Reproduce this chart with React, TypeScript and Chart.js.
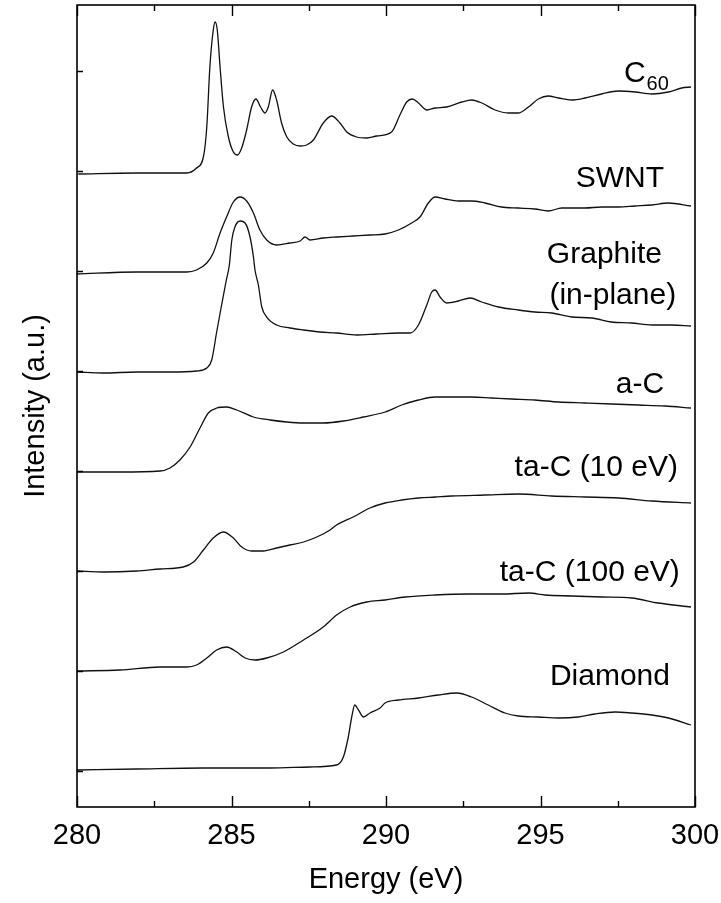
import React, { useEffect, useRef } from 'react';
import { Chart, registerables } from 'chart.js';

Chart.register(...registerables);

const FONT = "'Liberation Sans', Arial, Helvetica, sans-serif";

// ---- data (energy in eV, intensity in offset arbitrary units) ----
const eC60 = [280.04, 281.93, 283.55, 283.87, 284.09, 284.2, 284.3, 284.41, 284.47, 284.54, 284.63, 284.74, 284.9, 285.06, 285.19, 285.33, 285.49, 285.65, 285.79, 285.94, 286.08, 286.19, 286.33, 286.46, 286.62, 286.79, 287.0, 287.22, 287.43, 287.65, 287.97, 288.24, 288.51, 288.73, 289.05, 289.38, 289.7, 290.18, 290.45, 290.67, 290.85, 291.05, 291.32, 291.59, 291.96, 292.45, 292.77, 293.1, 293.53, 293.96, 294.28, 294.61, 294.93, 295.25, 295.58, 296.01, 296.44, 296.98, 297.52, 298.06, 298.6, 299.14, 299.57, 299.87];
const iC60 = [5.97, 5.98, 5.98, 6.03, 6.14, 6.44, 7.04, 7.41, 7.49, 7.41, 7.04, 6.64, 6.34, 6.19, 6.16, 6.23, 6.41, 6.64, 6.72, 6.64, 6.58, 6.64, 6.81, 6.71, 6.48, 6.34, 6.27, 6.25, 6.26, 6.31, 6.48, 6.55, 6.48, 6.39, 6.34, 6.33, 6.35, 6.39, 6.56, 6.69, 6.72, 6.68, 6.61, 6.63, 6.64, 6.69, 6.71, 6.68, 6.61, 6.58, 6.58, 6.64, 6.72, 6.75, 6.73, 6.71, 6.73, 6.77, 6.8, 6.79, 6.77, 6.79, 6.83, 6.84];

const eSWNT = [279.99, 281.93, 283.55, 283.87, 284.2, 284.41, 284.63, 284.84, 285.06, 285.28, 285.49, 285.71, 285.92, 286.14, 286.46, 286.89, 287.22, 287.38, 287.54, 287.97, 288.4, 288.94, 289.48, 289.97, 290.4, 290.83, 291.1, 291.37, 291.59, 291.91, 292.34, 292.77, 293.2, 293.74, 294.28, 294.82, 295.25, 295.69, 296.44, 296.98, 297.52, 298.06, 298.6, 299.14, 299.87];
const iSWNT = [4.97, 4.99, 4.99, 5.01, 5.08, 5.18, 5.38, 5.54, 5.69, 5.74, 5.7, 5.58, 5.41, 5.31, 5.26, 5.28, 5.3, 5.34, 5.31, 5.33, 5.34, 5.35, 5.36, 5.37, 5.41, 5.48, 5.54, 5.68, 5.74, 5.72, 5.7, 5.7, 5.68, 5.64, 5.63, 5.62, 5.6, 5.63, 5.63, 5.64, 5.64, 5.65, 5.66, 5.68, 5.65];

const eGraphite = [279.99, 280.85, 281.93, 283.01, 283.87, 284.2, 284.36, 284.52, 284.68, 284.82, 284.93, 285.01, 285.11, 285.28, 285.44, 285.6, 285.71, 285.76, 285.87, 285.98, 286.14, 286.46, 286.89, 287.33, 287.86, 288.4, 289.05, 289.7, 290.4, 290.78, 291.05, 291.32, 291.48, 291.59, 291.75, 291.96, 292.34, 292.72, 293.1, 293.64, 294.28, 294.82, 295.36, 296.01, 296.66, 297.3, 297.95, 298.6, 299.25, 299.87];
const iGraphite = [3.99, 3.98, 3.99, 3.99, 4.0, 4.03, 4.11, 4.39, 4.66, 4.89, 5.06, 5.31, 5.44, 5.5, 5.48, 5.34, 5.14, 5.01, 4.86, 4.64, 4.54, 4.46, 4.43, 4.41, 4.39, 4.38, 4.36, 4.37, 4.38, 4.38, 4.46, 4.66, 4.79, 4.81, 4.74, 4.68, 4.7, 4.73, 4.69, 4.64, 4.61, 4.59, 4.58, 4.54, 4.53, 4.49, 4.48, 4.46, 4.46, 4.45];

const eAC = [279.99, 281.39, 282.69, 283.01, 283.33, 283.66, 283.98, 284.25, 284.52, 284.84, 285.17, 285.71, 286.25, 286.79, 287.33, 287.97, 288.62, 289.27, 289.97, 290.51, 291.05, 291.59, 292.13, 292.77, 293.42, 294.07, 294.82, 295.58, 296.44, 297.3, 298.17, 299.03, 299.87];
const iAC = [2.99, 2.99, 3.0, 3.03, 3.11, 3.24, 3.43, 3.58, 3.63, 3.64, 3.61, 3.54, 3.51, 3.49, 3.48, 3.48, 3.5, 3.54, 3.59, 3.66, 3.71, 3.74, 3.74, 3.74, 3.73, 3.72, 3.71, 3.69, 3.68, 3.67, 3.66, 3.65, 3.63];

const eTaC10 = [279.99, 280.85, 281.93, 282.69, 283.44, 283.77, 284.09, 284.41, 284.74, 285.06, 285.33, 285.65, 286.03, 286.46, 286.89, 287.33, 287.76, 288.19, 288.4, 288.94, 289.48, 289.97, 290.51, 291.05, 291.59, 292.13, 293.2, 294.28, 295.36, 296.44, 297.52, 298.6, 299.87];
const iTaC10 = [2.0, 1.99, 2.0, 2.02, 2.04, 2.09, 2.21, 2.33, 2.39, 2.33, 2.24, 2.2, 2.2, 2.23, 2.26, 2.29, 2.34, 2.41, 2.46, 2.54, 2.63, 2.68, 2.71, 2.73, 2.74, 2.75, 2.76, 2.77, 2.75, 2.74, 2.73, 2.7, 2.68];

const eTaC100 = [279.99, 281.39, 282.69, 283.55, 283.87, 284.2, 284.52, 284.84, 285.17, 285.44, 285.76, 286.14, 286.68, 287.33, 287.97, 288.4, 288.84, 289.38, 289.97, 290.62, 291.59, 292.66, 293.74, 294.61, 295.15, 296.01, 296.98, 297.95, 298.81, 299.87];
const iTaC100 = [1.0, 1.01, 1.04, 1.04, 1.06, 1.13, 1.21, 1.24, 1.19, 1.13, 1.11, 1.13, 1.19, 1.31, 1.44, 1.56, 1.64, 1.69, 1.71, 1.74, 1.76, 1.77, 1.77, 1.78, 1.76, 1.75, 1.74, 1.73, 1.68, 1.64];

const eDiamond = [279.99, 281.93, 284.09, 286.25, 287.54, 288.4, 288.62, 288.78, 288.89, 288.99, 289.11, 289.27, 289.48, 289.81, 289.97, 290.4, 291.05, 291.69, 292.29, 292.77, 293.31, 293.85, 294.28, 294.93, 295.58, 296.22, 296.76, 297.41, 297.95, 298.6, 299.14, 299.87];
const iDiamond = [0.01, 0.02, 0.03, 0.03, 0.04, 0.06, 0.14, 0.34, 0.54, 0.66, 0.61, 0.54, 0.58, 0.63, 0.68, 0.71, 0.73, 0.76, 0.78, 0.74, 0.66, 0.58, 0.55, 0.54, 0.53, 0.54, 0.57, 0.59, 0.58, 0.56, 0.53, 0.46];

const seriesNames = ['C60', 'SWNT', 'Graphite (in-plane)', 'a-C', 'ta-C (10 eV)', 'ta-C (100 eV)', 'Diamond'];
const seriesEnergies = [eC60, eSWNT, eGraphite, eAC, eTaC10, eTaC100, eDiamond];
const seriesIntensities = [iC60, iSWNT, iGraphite, iAC, iTaC10, iTaC100, iDiamond];

// x tick values (labels shown at multiples of 5)
const xMin = 280;
const xMax = 300;
const xStep = 2.5;
const xTitle = 'Energy (eV)';
const yTitle = 'Intensity (a.u.)';

// curve labels: text, anchor energy (right edge), anchor intensity (baseline)
const labelTexts = ['SWNT', 'Graphite', '(in-plane)', 'a-C', 'ta-C (10 eV)', 'ta-C (100 eV)', 'Diamond'];
const labelEnergies = [299.0, 298.93, 299.39, 299.0, 299.45, 299.51, 299.19];
const labelLevels = [5.84, 5.08, 4.67, 3.78, 2.95, 1.9, 0.86];
const c60Label = { main: 'C', sub: '60', energy: 297.7, level: 6.89, subLevel: 6.81 };

function zip(xs: number[], ys: number[]) {
  const n = Math.min(xs.length, ys.length);
  const out: { x: number; y: number }[] = [];
  for (let i = 0; i < n; i++) out.push({ x: xs[i], y: ys[i] });
  return out;
}

const framePlugin = {
  id: 'frameTicks',
  afterDraw(chart: any) {
    const { ctx, chartArea: a, scales } = chart;
    const xs = scales.x;
    const ys = scales.y;
    ctx.save();
    ctx.strokeStyle = '#000';
    ctx.lineWidth = 1.6;
    ctx.strokeRect(a.left, a.top, a.right - a.left, a.bottom - a.top);
    ctx.lineWidth = 1.4;
    ctx.beginPath();
    xs.ticks.forEach((t: any) => {
      const px = Math.round(xs.getPixelForValue(t.value)) + 0.5;
      const major = Math.abs(t.value % 5) < 1e-6;
      const len = major ? 11 : 6;
      ctx.moveTo(px, a.bottom);
      ctx.lineTo(px, a.bottom - len);
      ctx.moveTo(px, a.top);
      ctx.lineTo(px, a.top + len);
    });
    ys.ticks.forEach((t: any) => {
      const py = Math.round(ys.getPixelForValue(t.value)) + 0.5;
      if (py <= a.top + 1 || py >= a.bottom - 1) return;
      ctx.moveTo(a.left, py);
      ctx.lineTo(a.left + 6, py);
    });
    ctx.stroke();
    ctx.restore();
  },
};

const labelPlugin = {
  id: 'curveLabels',
  afterDraw(chart: any) {
    const { ctx, scales } = chart;
    const xs = scales.x;
    const ys = scales.y;
    ctx.save();
    ctx.fillStyle = '#000';
    ctx.textBaseline = 'alphabetic';
    ctx.font = `30px ${FONT}`;
    ctx.textAlign = 'right';
    labelTexts.forEach((t, i) => {
      ctx.fillText(t, xs.getPixelForValue(labelEnergies[i]), ys.getPixelForValue(labelLevels[i]));
    });
    ctx.textAlign = 'left';
    const cx = xs.getPixelForValue(c60Label.energy);
    ctx.fillText(c60Label.main, cx, ys.getPixelForValue(c60Label.level));
    const w = ctx.measureText(c60Label.main).width;
    ctx.font = `20px ${FONT}`;
    ctx.fillText(c60Label.sub, cx + w + 1, ys.getPixelForValue(c60Label.subLevel));
    ctx.restore();
  },
};

export default function App() {
  const ref = useRef<HTMLCanvasElement | null>(null);
  useEffect(() => {
    if (!ref.current) return;
    const chart = new Chart(ref.current, {
      type: 'line',
      data: {
        datasets: seriesNames.map((name, i) => ({
          label: name,
          data: zip(seriesEnergies[i], seriesIntensities[i]),
          borderColor: '#111',
          borderWidth: 1.3,
          pointRadius: 0,
          fill: false,
          cubicInterpolationMode: 'monotone' as const,
        })),
      },
      options: {
        animation: false,
        responsive: false,
        devicePixelRatio: 1,
        layout: { padding: { left: 0, right: 26, top: 5, bottom: 0 } },
        plugins: { legend: { display: false }, tooltip: { enabled: false } },
        scales: {
          x: {
            type: 'linear',
            min: xMin,
            max: xMax,
            grid: { display: false, drawTicks: false },
            border: { display: false },
            ticks: {
              stepSize: xStep,
              autoSkip: false,
              maxRotation: 0,
              padding: 12,
              color: '#000',
              font: { family: FONT, size: 29 },
              callback: (v: any) => (Math.abs(Number(v) % 5) < 1e-6 ? String(v) : ''),
            },
            title: {
              display: true,
              text: xTitle,
              color: '#000',
              font: { family: FONT, size: 29 },
              padding: { top: 0, bottom: 6 },
            },
            afterFit: (s: any) => {
              s.height = 96;
              s.paddingLeft = 0;
              s.paddingRight = 0;
            },
          },
          y: {
            type: 'linear',
            min: -0.36,
            max: 7.66,
            grid: { display: false, drawTicks: false },
            border: { display: false },
            ticks: { stepSize: 1, display: false },
            title: {
              display: true,
              text: yTitle,
              color: '#000',
              font: { family: FONT, size: 29 },
              padding: { top: 19, bottom: 0 },
            },
            afterFit: (s: any) => {
              s.width = 77;
              s.paddingTop = 0;
              s.paddingBottom = 0;
            },
          },
        },
      },
      plugins: [framePlugin, labelPlugin],
    });
    return () => chart.destroy();
  }, []);
  return (
    <div style={{ position: 'absolute', left: 0, top: 0, width: 721, height: 903, background: '#fff' }}>
      <canvas ref={ref} width={721} height={903} />
    </div>
  );
}
